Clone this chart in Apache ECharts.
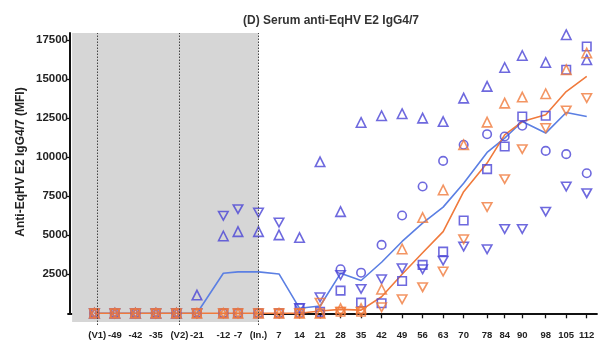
<!DOCTYPE html>
<html>
<head>
<meta charset="utf-8">
<script src="https://cdn.jsdelivr.net/npm/echarts@6/dist/echarts.min.js"></script>
<style>
  html, body { margin: 0; padding: 0; background: #fff; }
  #chart { width: 601px; height: 345px; }
</style>
</head>
<body>
<div id="chart"></div>
<script>
// days relative to infection
const days = [-56, -49, -42, -35, -28, -21, -12, -7, 0, 7, 14, 21, 28, 35, 42, 49, 56, 63, 70, 78, 84, 90, 98, 105, 112]

// blue group, one array per animal
const blueCircle = [0, 0, 0, 0, 0, 0, 0, 0, 0, 0, 0, 0, 2820, 2600, 4380, 6260, 8120, 9760, 10790, 11470, 11320, 12010, 10400, 10190, 8970]
const blueSquare = [0, 0, 0, 0, 0, 0, 0, 0, 0, 0, 320, 100, 1450, 680, 640, 2070, 3100, 3950, 5940, 9230, 10680, 12600, 12650, 15600, 17090]
const blueTriUp = [0, 0, 0, 0, 0, 1170, 4950, 5230, 5230, 5020, 4850, 9700, 6510, 12220, 12650, 12780, 12500, 12280, 13780, 14530, 15740, 16510, 16060, 17840, 16240]
const blueTriDown = [0, 0, 0, 0, 0, 0, 6240, 6670, 6450, 5810, 340, 1025, 2450, 1560, 2180, 2880, 2820, 3370, 4270, 4100, 5400, 5400, 6510, 8120, 7690]
const blueLine = [0, 0, 0, 0, 0, 0, 2560, 2650, 2650, 2520, 320, 470, 2560, 2100, 3270, 4600, 5770, 6800, 8330, 10300, 11220, 12280, 11540, 12860, 12600]

// orange group
const orangeSquare = [0, 0, 0, 0, 0, 0, 0, 0, 0, 0, 0, 0, 100, 100, null, null, null, null, null, null, null, null, null, null, null]
const orangeTriUp = [0, 0, 0, 0, 0, 0, 0, 0, 0, 0, 0, 0, 300, 300, 1540, 4120, 6130, 7900, 10790, 12240, 13460, 13850, 14060, 15600, 16670]
const orangeTriDown = [0, 0, 0, 0, 0, 0, 0, 0, 0, 0, 0, 680, 100, 100, 385, 900, 1670, 2670, 4740, 6800, 8590, 10510, 11860, 12990, 13780]
const orangeLine = [0, 0, 0, 0, 0, 0, 0, 0, 0, 0, 0, 150, 250, 200, 1060, 2500, 3880, 5230, 7790, 9620, 11430, 12280, 12710, 14200, 15170]

// axis labels
const xTickValues = [-55, -49, -42, -35, -27, -21, -12, -7, 0, 7, 14, 21, 28, 35, 42, 49, 56, 63, 70, 78, 84, 90, 98, 105, 112]
const xTickNames = { '-55': '(V1)', '-27': '(V2)', '0': '(In.)' }
const yTickValues = [2500, 5000, 7500, 10000, 12500, 15000, 17500]
const phaseLines = [-55, -27, 0]

const BLUE = '#4a43d6'
const BLUE_LINE = '#5b7fe3'
const ORANGE = '#f07a3c'
const TRI_DOWN = 'path://M0,0 L10,0 L5,9 Z'
const FONT = 'Liberation Sans'

const pts = (vals) => days.map((d, i) => [d, vals[i]])

const markerSeries = (name, vals, symbol, color, size) => ({
  name,
  type: 'scatter',
  xAxisIndex: 0,
  yAxisIndex: 0,
  data: pts(vals),
  symbol,
  symbolSize: size,
  itemStyle: { color: 'rgba(255,255,255,0)', borderColor: color, borderWidth: 1.6 },
  z: 4
})

const lineSeries = (name, vals, color) => ({
  name,
  type: 'line',
  xAxisIndex: 0,
  yAxisIndex: 0,
  data: pts(vals),
  showSymbol: false,
  lineStyle: { color, width: 1.6 },
  z: 3
})

const chart = echarts.init(document.getElementById('chart'))

chart.setOption({
  animation: false,
  title: {
    text: '(D) Serum anti-EqHV E2 IgG4/7',
    left: 238,
    top: 10,
    textStyle: { fontFamily: FONT, fontSize: 12, fontWeight: 'bold', color: '#333' }
  },
  graphic: [{
    type: 'text',
    x: 21,
    y: 162,
    rotation: Math.PI / 2,
    style: {
      text: 'Anti-EqHV E2 IgG4/7 (MFI)',
      fontFamily: FONT,
      fontSize: 12,
      fontWeight: 'bold',
      fill: '#222',
      textAlign: 'center',
      textVerticalAlign: 'middle'
    }
  }],
  grid: [
    { left: 68, right: 4, top: 33, bottom: 20 },
    { left: 70, right: 4, top: 33, bottom: 31.7 }
  ],
  xAxis: [
    {
      type: 'value',
      gridIndex: 0,
      min: -65,
      max: 115.5,
      splitLine: { show: false },
      axisLine: { show: true, lineStyle: { color: '#111', width: 1.8 } },
      axisTick: { show: true, customValues: xTickValues, length: 5, lineStyle: { color: '#111', width: 1.3 } },
      axisLabel: {
        customValues: xTickValues,
        margin: 5,
        fontFamily: FONT,
        fontSize: 9.5,
        fontWeight: 'bold',
        color: '#222',
        formatter: (v) => xTickNames[String(v)] || String(v)
      }
    },
    { type: 'value', gridIndex: 1, show: false, min: 0, max: 1 }
  ],
  yAxis: [
    { type: 'value', gridIndex: 0, show: false, min: -750, max: 17950 },
    {
      type: 'value',
      gridIndex: 1,
      min: 0,
      max: 17950,
      splitLine: { show: false },
      axisLine: { show: true, lineStyle: { color: '#111', width: 2 } },
      axisTick: { show: true, customValues: yTickValues, length: 4, lineStyle: { color: '#111', width: 1.3 } },
      axisLabel: {
        customValues: yTickValues,
        margin: 2,
        fontFamily: FONT,
        fontSize: 11.5,
        fontWeight: 'bold',
        color: '#222',
        formatter: (v) => String(v)
      }
    }
  ],
  series: [
    {
      // shaded pre-infection period + phase markers
      type: 'line',
      xAxisIndex: 0,
      yAxisIndex: 0,
      data: [],
      silent: true,
      z: 1,
      markArea: {
        silent: true,
        itemStyle: { color: '#d6d6d6' },
        data: [[{ xAxis: -63.6, yAxis: -550 }, { xAxis: 0, yAxis: 17950 }]]
      },
      markLine: {
        silent: true,
        symbol: 'none',
        label: { show: false },
        lineStyle: { color: '#444', type: [1.5, 1.5], width: 1 },
        data: phaseLines.map((d) => ({ xAxis: d }))
      }
    },
    lineSeries('blue mean', blueLine, BLUE_LINE),
    markerSeries('blue circle', blueCircle, 'circle', BLUE, 8.5),
    markerSeries('blue square', blueSquare, 'rect', BLUE, 8.5),
    markerSeries('blue up', blueTriUp, 'triangle', BLUE, 9.5),
    markerSeries('blue down', blueTriDown, TRI_DOWN, BLUE, [9.5, 8.5]),
    lineSeries('orange mean', orangeLine, ORANGE),
    markerSeries('orange square', orangeSquare, 'rect', ORANGE, 8.5),
    markerSeries('orange up', orangeTriUp, 'triangle', ORANGE, 9.5),
    markerSeries('orange down', orangeTriDown, TRI_DOWN, ORANGE, [9.5, 8.5])
  ]
})
</script>
</body>
</html>
